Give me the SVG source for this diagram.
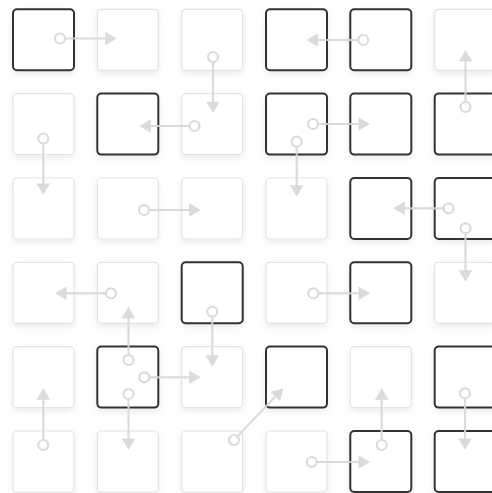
<svg xmlns="http://www.w3.org/2000/svg" width="492" height="493" viewBox="0 0 492 493">
<style>
.sq{fill:#fff;filter:url(#sh)}
.lt{stroke:#e2e3e8;stroke-width:1.2}
.dk{stroke:#333;stroke-width:2}
.cn{opacity:0.9}
.cn line{stroke:#d6d7dc;stroke-width:2.2;fill:none;marker-start:url(#dot);marker-end:url(#arr)}
</style>
<defs>
<filter id="sh" x="-20%" y="-20%" width="140%" height="150%">
<feDropShadow dx="0" dy="3" stdDeviation="3" flood-color="#1f2a44" flood-opacity="0.08"/>
</filter>
<marker id="arr" markerUnits="userSpaceOnUse" viewBox="0 0 20 20" markerWidth="20" markerHeight="20" refX="5" refY="10" orient="auto">
<path d="M3.5,3.2 L15,10 L3.5,16.8 z" fill="#d6d7dc"/>
</marker>
<marker id="dot" markerUnits="userSpaceOnUse" viewBox="0 0 16 16" markerWidth="16" markerHeight="16" refX="8" refY="8" orient="auto">
<circle cx="8" cy="8" r="5" fill="#fff" stroke="#d6d7dc" stroke-width="2.2"/>
</marker>
</defs>
<g id="nodes">
<g id="n00"><rect class="sq dk" x="13" y="9.3" width="61" height="61" rx="4"/></g>
<g id="n01"><rect class="sq lt" x="97.3" y="9.3" width="61" height="61" rx="4"/></g>
<g id="n02"><rect class="sq lt" x="181.7" y="9.3" width="61" height="61" rx="4"/></g>
<g id="n03"><rect class="sq dk" x="266" y="9.3" width="61" height="61" rx="4"/></g>
<g id="n04"><rect class="sq dk" x="350.3" y="9.3" width="61" height="61" rx="4"/></g>
<g id="n05"><rect class="sq lt" x="434.7" y="9.3" width="61" height="61" rx="4"/></g>
<g id="n10"><rect class="sq lt" x="13" y="93.6" width="61" height="61" rx="4"/></g>
<g id="n11"><rect class="sq dk" x="97.3" y="93.6" width="61" height="61" rx="4"/></g>
<g id="n12"><rect class="sq lt" x="181.7" y="93.6" width="61" height="61" rx="4"/></g>
<g id="n13"><rect class="sq dk" x="266" y="93.6" width="61" height="61" rx="4"/></g>
<g id="n14"><rect class="sq dk" x="350.3" y="93.6" width="61" height="61" rx="4"/></g>
<g id="n15"><rect class="sq dk" x="434.7" y="93.6" width="61" height="61" rx="4"/></g>
<g id="n20"><rect class="sq lt" x="13" y="178" width="61" height="61" rx="4"/></g>
<g id="n21"><rect class="sq lt" x="97.3" y="178" width="61" height="61" rx="4"/></g>
<g id="n22"><rect class="sq lt" x="181.7" y="178" width="61" height="61" rx="4"/></g>
<g id="n23"><rect class="sq lt" x="266" y="178" width="61" height="61" rx="4"/></g>
<g id="n24"><rect class="sq dk" x="350.3" y="178" width="61" height="61" rx="4"/></g>
<g id="n25"><rect class="sq dk" x="434.7" y="178" width="61" height="61" rx="4"/></g>
<g id="n30"><rect class="sq lt" x="13" y="262.3" width="61" height="61" rx="4"/></g>
<g id="n31"><rect class="sq lt" x="97.3" y="262.3" width="61" height="61" rx="4"/></g>
<g id="n32"><rect class="sq dk" x="181.7" y="262.3" width="61" height="61" rx="4"/></g>
<g id="n33"><rect class="sq lt" x="266" y="262.3" width="61" height="61" rx="4"/></g>
<g id="n34"><rect class="sq dk" x="350.3" y="262.3" width="61" height="61" rx="4"/></g>
<g id="n35"><rect class="sq lt" x="434.7" y="262.3" width="61" height="61" rx="4"/></g>
<g id="n40"><rect class="sq lt" x="13" y="346.6" width="61" height="61" rx="4"/></g>
<g id="n41"><rect class="sq dk" x="97.3" y="346.6" width="61" height="61" rx="4"/></g>
<g id="n42"><rect class="sq lt" x="181.7" y="346.6" width="61" height="61" rx="4"/></g>
<g id="n43"><rect class="sq dk" x="266" y="346.6" width="61" height="61" rx="4"/></g>
<g id="n44"><rect class="sq lt" x="350.3" y="346.6" width="61" height="61" rx="4"/></g>
<g id="n45"><rect class="sq dk" x="434.7" y="346.6" width="61" height="61" rx="4"/></g>
<g id="n50"><rect class="sq lt" x="13" y="431" width="61" height="61" rx="4"/></g>
<g id="n51"><rect class="sq lt" x="97.3" y="431" width="61" height="61" rx="4"/></g>
<g id="n52"><rect class="sq lt" x="181.7" y="431" width="61" height="61" rx="4"/></g>
<g id="n53"><rect class="sq lt" x="266" y="431" width="61" height="61" rx="4"/></g>
<g id="n54"><rect class="sq dk" x="350.3" y="431" width="61" height="61" rx="4"/></g>
<g id="n55"><rect class="sq dk" x="434.7" y="431" width="61" height="61" rx="4"/></g>
</g>
<g id="connectors" class="cn">
<line x1="60" y1="38.5" x2="106.7" y2="38.5"/>
<line x1="363.3" y1="40" x2="316.7" y2="40"/>
<line x1="213" y1="57" x2="213" y2="103.3"/>
<line x1="465.5" y1="107" x2="465.5" y2="60"/>
<line x1="194.5" y1="126" x2="149.3" y2="126"/>
<line x1="313" y1="124" x2="360" y2="124"/>
<line x1="43.3" y1="138.5" x2="43.3" y2="185"/>
<line x1="296.7" y1="141.7" x2="296.7" y2="186.7"/>
<line x1="144" y1="210" x2="190.7" y2="210"/>
<line x1="448.5" y1="208.3" x2="403.3" y2="208.3"/>
<line x1="465.5" y1="228.3" x2="465.5" y2="271.7"/>
<line x1="111" y1="293.3" x2="65" y2="293.3"/>
<line x1="128.5" y1="360" x2="128.5" y2="316.7"/>
<line x1="212.3" y1="311.7" x2="212.3" y2="356.7"/>
<line x1="313.3" y1="293.3" x2="360" y2="293.3"/>
<line x1="144.3" y1="377.3" x2="190.7" y2="377.3"/>
<line x1="43.3" y1="445" x2="43.3" y2="398.3"/>
<line x1="128.5" y1="394" x2="128.5" y2="440"/>
<line x1="234" y1="440" x2="276.4" y2="395.5"/>
<line x1="381.7" y1="445" x2="381.7" y2="398.3"/>
<line x1="465" y1="393.3" x2="465" y2="440"/>
<line x1="311.7" y1="462" x2="360" y2="462"/>
</g>
</svg>
